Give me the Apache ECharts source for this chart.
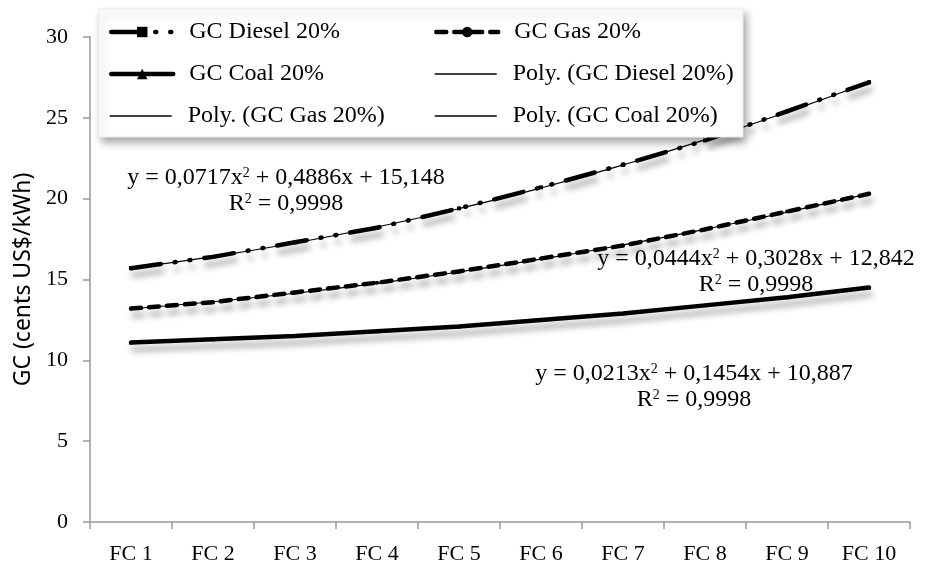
<!DOCTYPE html>
<html>
<head>
<meta charset="utf-8">
<script src="https://cdn.jsdelivr.net/npm/echarts@6/dist/echarts.min.js"></script>
<style>
  html, body { margin: 0; padding: 0; background: #fff; }
  #chart { width: 925px; height: 565px; }
</style>
</head>
<body>
<div id="chart"></div>
<script>
// Generation cost by fuel-cost scenario
const categories = ['FC 1', 'FC 2', 'FC 3', 'FC 4', 'FC 5', 'FC 6', 'FC 7', 'FC 8', 'FC 9', 'FC 10'];
const dieselValues = [15.7, 16.4, 17.3, 18.2, 19.4, 20.7, 22.1, 23.6, 25.4, 27.2];
const gasValues    = [13.2, 13.6, 14.2, 14.8, 15.5, 16.3, 17.1, 18.1, 19.2, 20.3];
const coalValues   = [11.1, 11.3, 11.5, 11.8, 12.1, 12.5, 12.9, 13.4, 13.9, 14.5];

// Second-order polynomial trend coefficients [a, b, c] for y = a*x^2 + b*x + c
const dieselFit = [0.0717, 0.4886, 15.148];
const gasFit    = [0.0444, 0.3028, 12.842];
const coalFit   = [0.0213, 0.1454, 10.887];
const rSquared  = '0,9998';

const yTicks = { min: 0, max: 30, interval: 5 };

const serif = '"Liberation Serif", serif';
const sans = '"Noto Sans", sans-serif';

function trend(fit) {
  return categories.map((c, i) => {
    const x = i + 1;
    return +(fit[0] * x * x + fit[1] * x + fit[2]).toFixed(4);
  });
}

const shadow = {
  shadowColor: 'rgba(0,0,0,0.35)',
  shadowBlur: 6,
  shadowOffsetX: 2,
  shadowOffsetY: 7
};
const noShadow = { shadowBlur: 0, shadowOffsetX: 0, shadowOffsetY: 0, shadowColor: 'transparent' };

const dieselDash = [30, 14, 1, 14, 1, 14];
const gasDash = [10, 8];

const series = [
  {
    name: 'GC Diesel 20%', type: 'line', data: dieselValues,
    symbol: 'rect', symbolSize: 4, showSymbol: true,
    itemStyle: { color: '#000' },
    lineStyle: Object.assign({ color: '#000', width: 4.5, type: dieselDash, cap: 'round' }, shadow),
    z: 3
  },
  {
    name: 'GC Gas 20%', type: 'line', data: gasValues,
    symbol: 'circle', symbolSize: 4, showSymbol: true,
    itemStyle: { color: '#000' },
    lineStyle: Object.assign({ color: '#000', width: 4.5, type: gasDash, cap: 'round' }, shadow),
    z: 3
  },
  {
    name: 'GC Coal 20%', type: 'line', data: coalValues,
    symbol: 'triangle', symbolSize: 4, showSymbol: true,
    itemStyle: { color: '#000' },
    lineStyle: Object.assign({ color: '#000', width: 4.5, type: 'solid', cap: 'round' }, shadow),
    z: 3
  },
  {
    name: 'Poly. (GC Diesel 20%)', type: 'line', data: trend(dieselFit),
    smooth: true, showSymbol: false, symbol: 'circle',
    itemStyle: { color: '#000' },
    lineStyle: { color: '#000', width: 1.2 }, z: 4
  },
  {
    name: 'Poly. (GC Gas 20%)', type: 'line', data: trend(gasFit),
    smooth: true, showSymbol: false, symbol: 'circle',
    itemStyle: { color: '#000' },
    lineStyle: { color: '#000', width: 1.2 }, z: 4
  },
  {
    name: 'Poly. (GC Coal 20%)', type: 'line', data: trend(coalFit),
    smooth: true, showSymbol: false, symbol: 'circle',
    itemStyle: { color: '#000' },
    lineStyle: { color: '#000', width: 1.2 }, z: 4
  }
];

// Legend laid out as a 2 x 3 grid inside a shadowed box
const colLeft = 109, colRight = 434;
const legendCells = [
  { name: 'GC Diesel 20%', left: colLeft, top: 20, lineStyle: Object.assign({ width: 4.5, type: dieselDash }, noShadow), itemStyle: {} },
  { name: 'GC Gas 20%', left: colRight, top: 20, lineStyle: Object.assign({ width: 4.5, type: gasDash }, noShadow), itemStyle: {} },
  { name: 'GC Coal 20%', left: colLeft, top: 62, lineStyle: Object.assign({ width: 4.5 }, noShadow), itemStyle: {} },
  { name: 'Poly. (GC Diesel 20%)', left: colRight, top: 62, lineStyle: { width: 1.4 }, itemStyle: { opacity: 0 } },
  { name: 'Poly. (GC Gas 20%)', left: colLeft, top: 104, lineStyle: { width: 1.4 }, itemStyle: { opacity: 0 } },
  { name: 'Poly. (GC Coal 20%)', left: colRight, top: 104, lineStyle: { width: 1.4 }, itemStyle: { opacity: 0 } }
];
const legends = legendCells.map(cell => ({
  data: [{ name: cell.name, lineStyle: cell.lineStyle, itemStyle: cell.itemStyle }],
  left: cell.left, top: cell.top,
  itemWidth: 62, itemHeight: 13, itemGap: 6,
  padding: 0, z: 20,
  textStyle: { fontFamily: serif, fontSize: 24, color: '#000', padding: [0, 0, 0, 11] }
}));

function eqText(fit) {
  const f = v => String(v).replace('.', ',');
  return 'y = ' + f(fit[0]) + 'x{sup|2} + ' + f(fit[1]) + 'x + ' + f(fit[2]);
}
const rich = {
  sup: { fontFamily: serif, fontSize: 14, verticalAlign: 'top', padding: [0, 0, 10, 0], color: '#000' }
};
function label(text, x, y) {
  return {
    type: 'text', x: x, y: y, z: 30,
    style: {
      text: text, align: 'center', verticalAlign: 'middle',
      font: '24px ' + serif, fill: '#000', rich: rich
    }
  };
}

const option = {
  backgroundColor: '#fff',
  animation: false,
  grid: { left: 90, right: 15, top: 37, bottom: 42 },
  legend: legends,
  xAxis: {
    type: 'category', data: categories, boundaryGap: true,
    axisLine: { lineStyle: { color: '#999', width: 1.5 } },
    axisTick: { show: true, length: 7, lineStyle: { color: '#999', width: 1.5 } },
    axisLabel: { fontFamily: serif, fontSize: 22, color: '#000', margin: 21 }
  },
  yAxis: {
    type: 'value', min: yTicks.min, max: yTicks.max, interval: yTicks.interval,
    name: 'GC (cents US$/kWh)', nameLocation: 'middle', nameGap: 54,
    nameTextStyle: { fontFamily: sans, fontSize: 23, color: '#000' },
    splitLine: { show: false },
    axisLine: { show: true, lineStyle: { color: '#999', width: 1.5 } },
    axisTick: { show: true, length: 7, lineStyle: { color: '#999', width: 1.5 } },
    axisLabel: { fontFamily: serif, fontSize: 22, color: '#000', margin: 22 }
  },
  graphic: [
    {
      type: 'rect', z: 10,
      shape: { x: 99, y: 9, width: 644, height: 128 },
      style: { fill: '#fff', stroke: '#ececec', lineWidth: 1,
        shadowColor: 'rgba(0,0,0,0.35)', shadowBlur: 8, shadowOffsetX: 3, shadowOffsetY: 5 }
    },
    label(eqText(dieselFit), 286, 178),
    label('R{sup|2} = ' + rSquared, 286, 204),
    label(eqText(gasFit), 756, 259),
    label('R{sup|2} = ' + rSquared, 756, 285),
    label(eqText(coalFit), 694, 374),
    label('R{sup|2} = ' + rSquared, 694, 400)
  ],
  series: series
};

const chart = echarts.init(document.getElementById('chart'), null, { renderer: 'canvas' });
chart.setOption(option);
</script>
</body>
</html>
